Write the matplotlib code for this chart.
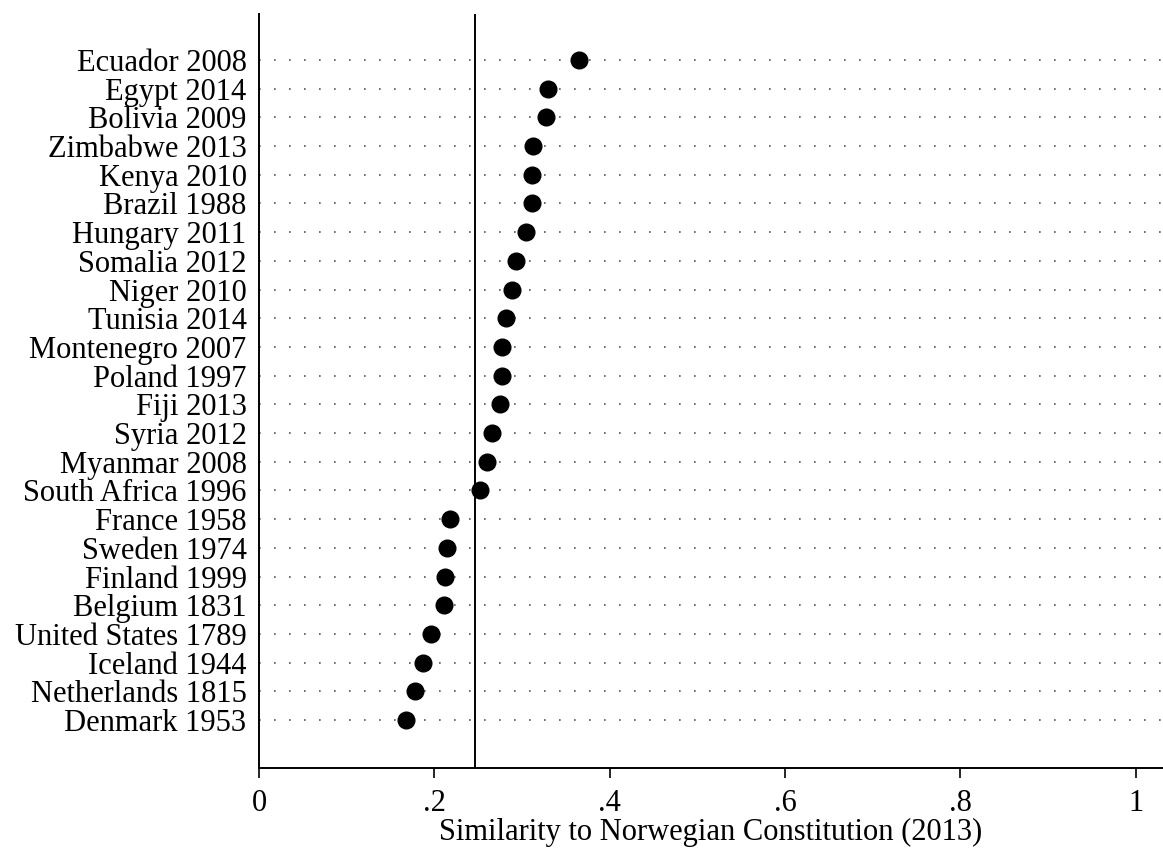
import matplotlib.pyplot as plt

countries = ['Ecuador 2008', 'Egypt 2014', 'Bolivia 2009', 'Zimbabwe 2013', 'Kenya 2010',
             'Brazil 1988', 'Hungary 2011', 'Somalia 2012', 'Niger 2010', 'Tunisia 2014',
             'Montenegro 2007', 'Poland 1997', 'Fiji 2013', 'Syria 2012', 'Myanmar 2008',
             'South Africa 1996', 'France 1958', 'Sweden 1974', 'Finland 1999', 'Belgium 1831',
             'United States 1789', 'Iceland 1944', 'Netherlands 1815', 'Denmark 1953']
similarity = [0.365, 0.330, 0.327, 0.312, 0.311, 0.311, 0.304, 0.293, 0.288, 0.282,
              0.277, 0.277, 0.275, 0.266, 0.260, 0.252, 0.218, 0.214, 0.212, 0.211,
              0.196, 0.187, 0.178, 0.168]
mean_line = 0.246
xticks = [0, 0.2, 0.4, 0.6, 0.8, 1]
xticklabels = ['0', '.2', '.4', '.6', '.8', '1']

plt.rcParams['font.family'] = ['Liberation Serif', 'DejaVu Serif']

fig = plt.figure(figsize=(11.63, 8.49), dpi=100)
ax = fig.add_axes([0.2227, 0.0954, 0.7773, 0.8881])

ypos = list(range(len(countries)))
for y in ypos:
    ax.plot([0, 1.031], [y, y], linestyle=(0, (1, 8)), color='#555555', lw=1.2, zorder=1)
ax.axvline(mean_line, color='black', lw=1.4, zorder=2)
ax.plot(similarity, ypos, 'o', color='black', markersize=12, zorder=3)

ax.set_xlim(0, 1.031)
ax.set_ylim(24.67, -1.6)
ax.set_yticks(ypos)
ax.set_yticklabels(countries, fontsize=22)
ax.tick_params(axis='y', length=0, pad=9)
ax.set_xticks(xticks)
ax.set_xticklabels(xticklabels, fontsize=22)
ax.tick_params(axis='x', length=7, width=1.2, pad=8)
ax.set_xlabel('Similarity to Norwegian Constitution (2013)', fontsize=22, labelpad=0)

for s in ['top', 'right']:
    ax.spines[s].set_visible(False)
ax.spines['left'].set_linewidth(1.4)
ax.spines['bottom'].set_linewidth(1.4)

fig.savefig('out.png', dpi=100)
